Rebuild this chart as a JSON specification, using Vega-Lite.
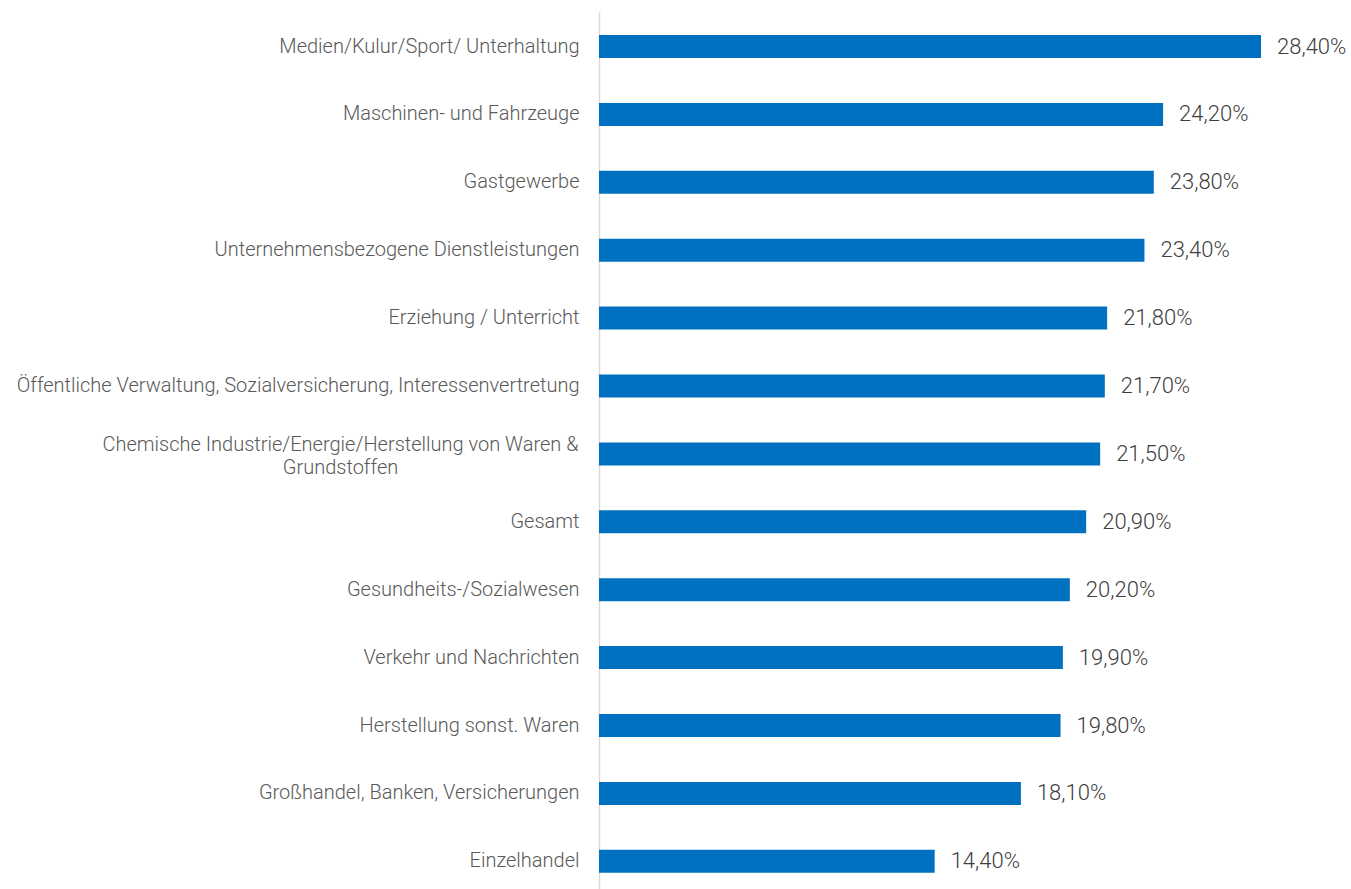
{
  "$schema": "https://vega.github.io/schema/vega-lite/v6.json",
  "autosize": {"type": "none"},
  "width": 662,
  "height": 877,
  "padding": {"left": 599, "top": 12, "right": 90, "bottom": 0},
  "background": "white",
  "config": {
    "view": {"stroke": null},
    "locale": {"number": {"decimal": ",", "thousands": ".", "grouping": [3], "currency": ["", " €"]}},
    "font": "Roboto"
  },
  "data": {"values": [
    {"cat": "Medien/Kulur/Sport/ Unterhaltung", "v": 0.284},
    {"cat": "Maschinen- und Fahrzeuge", "v": 0.242},
    {"cat": "Gastgewerbe", "v": 0.238},
    {"cat": "Unternehmensbezogene Dienstleistungen", "v": 0.234},
    {"cat": "Erziehung / Unterricht", "v": 0.218},
    {"cat": "Öffentliche Verwaltung, Sozialversicherung, Interessenvertretung", "v": 0.217},
    {"cat": "Chemische Industrie/Energie/Herstellung von Waren &|Grundstoffen", "v": 0.215},
    {"cat": "Gesamt", "v": 0.209},
    {"cat": "Gesundheits-/Sozialwesen", "v": 0.202},
    {"cat": "Verkehr und Nachrichten", "v": 0.199},
    {"cat": "Herstellung sonst. Waren", "v": 0.198},
    {"cat": "Großhandel, Banken, Versicherungen", "v": 0.181},
    {"cat": "Einzelhandel", "v": 0.144}
  ]},
  "encoding": {
    "y": {
      "field": "cat", "type": "nominal", "sort": null,
      "scale": {"paddingInner": 0.661, "paddingOuter": 0.2885, "align": 0.587},
      "axis": {
        "title": null, "ticks": false, "domainColor": "#d9d9d9", "domainWidth": 1.5,
        "labelFont": "Roboto", "labelFontSize": 20, "labelFontWeight": 300, "labelColor": "#595959",
        "labelAlign": {"condition": {"test": "indexof(datum.value, 'Chemische') >= 0", "value": "center"}, "value": "right"},
        "labelPadding": {"condition": {"test": "indexof(datum.value, 'Chemische') >= 0", "value": 259}, "value": 20},
        "labelOffset": {"condition": {"test": "indexof(datum.value, 'Chemische') >= 0", "value": -9}, "value": 0},
        "labelLimit": 700, "labelLineHeight": 23,
        "labelExpr": "split(datum.label, '|')"
      }
    },
    "x": {
      "field": "v", "type": "quantitative",
      "scale": {"domain": [0, 0.284], "nice": false, "zero": true},
      "axis": null
    }
  },
  "layer": [
    {"mark": {"type": "bar", "color": "#0070C0"}},
    {
      "mark": {"type": "text", "align": "left", "dx": 16, "font": "Roboto", "fontSize": 22, "fontWeight": 300, "color": "#404040", "baseline": "middle"},
      "encoding": {"text": {"field": "v", "type": "quantitative", "format": ".2%"}}
    }
  ]
}
